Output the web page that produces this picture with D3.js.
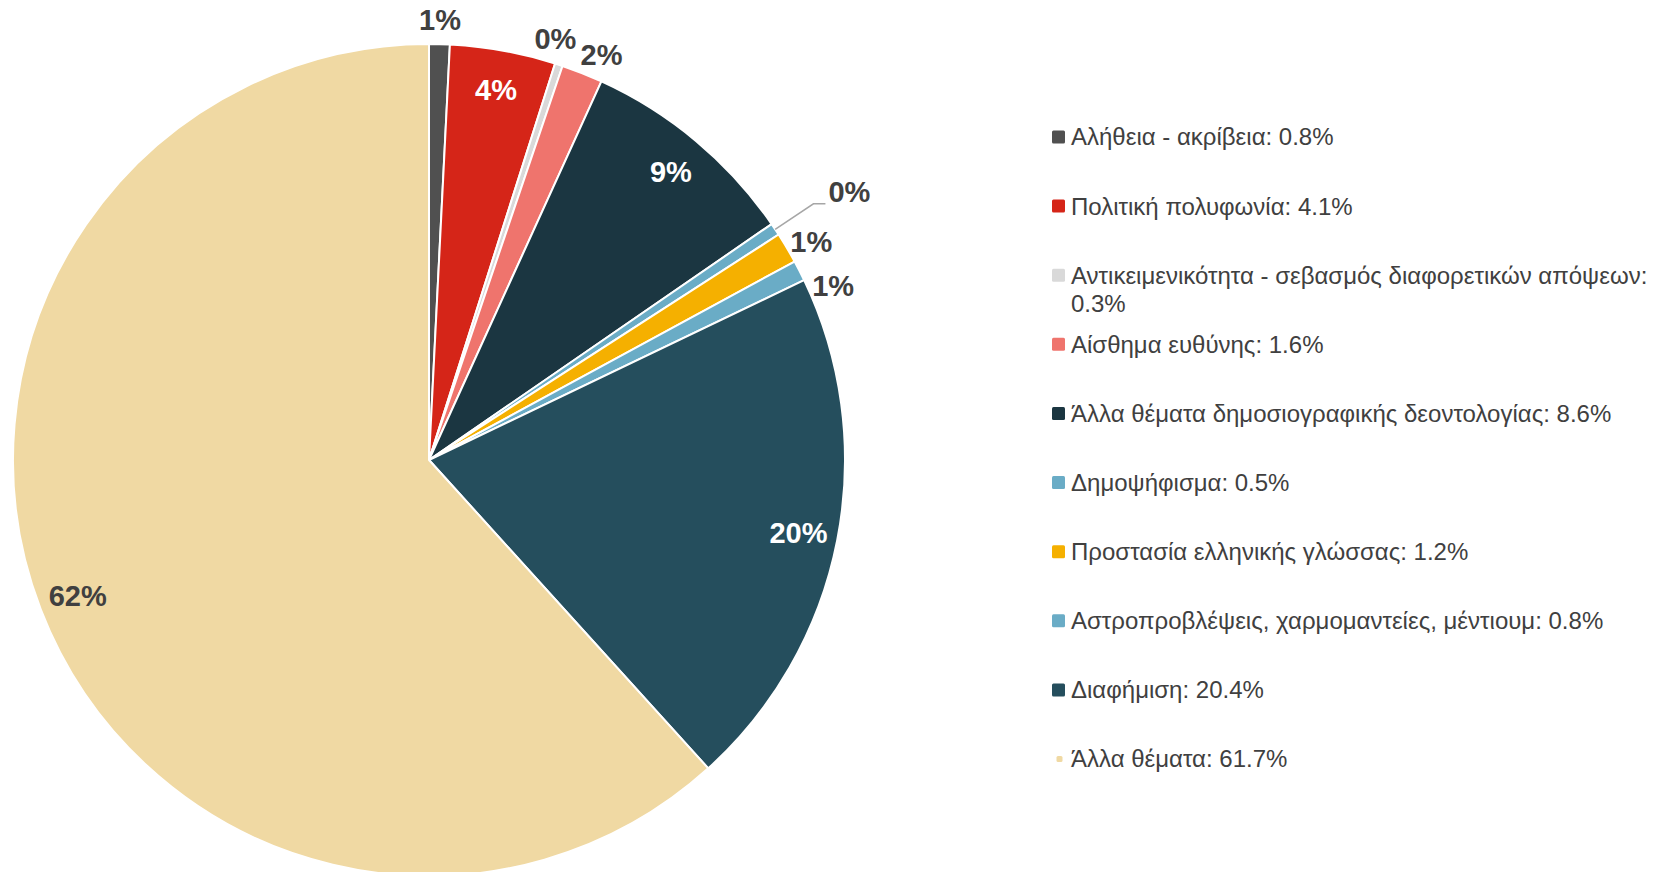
<!DOCTYPE html>
<html>
<head>
<meta charset="utf-8">
<script src="https://cdn.jsdelivr.net/npm/d3@7"></script>
<style>
  body { margin: 0; background: #fff; }
  svg { display: block; font-family: "Liberation Sans", Arial, sans-serif; }
</style>
</head>
<body>
<div id="chart"></div>
<script>
const categories = [
  "Αλήθεια - ακρίβεια",
  "Πολιτική πολυφωνία",
  "Αντικειμενικότητα - σεβασμός διαφορετικών απόψεων",
  "Αίσθημα ευθύνης",
  "Άλλα θέματα δημοσιογραφικής δεοντολογίας",
  "Δημοψήφισμα",
  "Προστασία ελληνικής γλώσσας",
  "Αστροπροβλέψεις, χαρμομαντείες, μέντιουμ",
  "Διαφήμιση",
  "Άλλα θέματα"
];
const values = [0.8, 4.1, 0.3, 1.6, 8.6, 0.48, 1.2, 0.8, 20.4, 61.7];
const colors = ["#505050", "#D52518", "#D9D9D9", "#EF746D", "#1B3641",
                "#6AACC6", "#F5B000", "#6AACC6", "#254E5D", "#F0D9A3"];
// labels drawn away from the pie with a leader line
const leaderLabels = ["Δημοψήφισμα"];

const data = categories.map((c, i) => ({ label: c, value: values[i], color: colors[i] }));

const width = 1654, height = 872;
const cx = 429, cy = 460, radius = 416;
const textColor = "#404040";

const svg = d3.select("#chart").append("svg")
  .attr("width", width)
  .attr("height", height);

const pie = d3.pie().sort(null).value(d => d.value);
const arcs = pie(data);
const arc = d3.arc().innerRadius(0).outerRadius(radius);
const arcIn = d3.arc().innerRadius(radius * 0.905).outerRadius(radius * 0.905);

const g = svg.append("g").attr("transform", "translate(" + cx + "," + cy + ")");

g.selectAll("path.slice")
  .data(arcs)
  .enter()
  .append("path")
  .attr("class", "slice")
  .attr("d", arc)
  .attr("fill", d => d.data.color)
  .attr("stroke", "#fff")
  .attr("stroke-width", 2)
  .attr("stroke-linejoin", "round");

const fmtPct = v => Math.round(v) + "%";
const mid = d => (d.startAngle + d.endAngle) / 2;

// inside labels for the big slices
const inside = arcs.filter(d => d.data.value >= 4);
g.selectAll("text.in")
  .data(inside)
  .enter()
  .append("text")
  .attr("class", "in")
  .attr("transform", d => "translate(" + arcIn.centroid(d) + ")")
  .attr("text-anchor", "middle")
  .attr("dy", "0.35em")
  .style("font-size", "29px")
  .style("font-weight", "bold")
  .style("fill", d => d3.hsl(d.data.color).l < 0.5 ? "#fff" : textColor)
  .text(d => fmtPct(d.data.value));

// outside labels, spread apart so they do not collide
const small = arcs.filter(d => d.data.value < 4);
const placed = small.map(d => ({ d, a: mid(d), fixed: leaderLabels.includes(d.data.label) }))
  .sort((p, q) => p.a - q.a);
const deg = Math.PI / 180;
const minGap = 6.4 * deg, fixedGap = 4.0 * deg;
for (let k = 0; k < 80; k++) {
  for (let i = 0; i < placed.length - 1; i++) {
    const p = placed[i], q = placed[i + 1];
    const gap = q.a - p.a;
    const need = (p.fixed || q.fixed) ? fixedGap : minGap;
    if (gap < need) {
      const dd = need - gap;
      if (p.fixed) q.a += dd;
      else if (q.fixed) p.a -= dd;
      else { p.a -= dd / 2; q.a += dd / 2; }
    }
  }
}

placed.forEach(p => {
  const txt = fmtPct(p.d.data.value);
  if (p.fixed) {
    const s = d3.pointRadial(p.a, radius);
    const b = d3.pointRadial(p.a, radius + 46);
    const e = [b[0] + 12, b[1]];
    g.append("polyline")
      .attr("points", [s, b, e].map(q => q.join(",")).join(" "))
      .attr("fill", "none")
      .attr("stroke", "#A6A6A6")
      .attr("stroke-width", 1.5);
    g.append("text")
      .attr("x", e[0] + 3)
      .attr("y", b[1] - 12)
      .attr("dy", "0.35em")
      .attr("text-anchor", "start")
      .style("font-size", "29px")
      .style("font-weight", "bold")
      .style("fill", textColor)
      .text(txt);
  } else {
    const pos = d3.pointRadial(p.a, 440);
    g.append("text")
      .attr("x", pos[0])
      .attr("y", pos[1])
      .attr("dy", "0.35em")
      .attr("text-anchor", "middle")
      .style("font-size", "29px")
      .style("font-weight", "bold")
      .style("fill", textColor)
      .text(txt);
  }
});

// legend
const legendX = 1052;
const textX = 1071;
const maxW = width - textX - 4;
const y = d3.scalePoint().domain(categories).range([137, 759]);

const legend = svg.append("g").attr("class", "legend");
data.forEach((d, i) => {
  const yy = y(d.label);
  const last = i === data.length - 1;
  const sz = last ? 6 : 13;
  legend.append("rect")
    .attr("x", legendX + (13 - sz) / 2 + (last ? 1 : 0))
    .attr("y", yy - sz / 2)
    .attr("width", sz)
    .attr("height", sz)
    .attr("rx", 1.5)
    .attr("fill", d.color);

  const t = legend.append("text")
    .attr("x", textX)
    .attr("y", yy)
    .attr("dy", "0.35em")
    .style("font-size", "24px")
    .style("fill", textColor);

  const words = (d.label + ": " + d3.format(".1f")(d.value) + "%").split(" ");
  let line = [];
  let ts = t.append("tspan").attr("x", textX);
  words.forEach(w => {
    line.push(w);
    ts.text(line.join(" "));
    if (ts.node().getComputedTextLength() > maxW && line.length > 1) {
      line.pop();
      ts.text(line.join(" "));
      line = [w];
      ts = t.append("tspan").attr("x", textX).attr("dy", "1.2em").text(w);
    }
  });
});
</script>
</body>
</html>
